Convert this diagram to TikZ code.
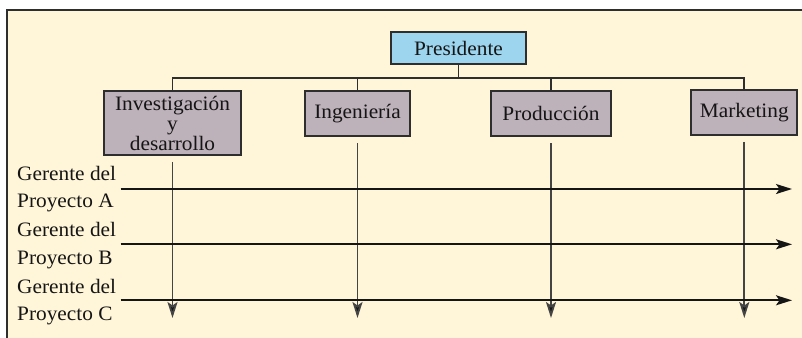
\documentclass[tikz,border=0pt]{standalone}
\usepackage{fontspec}
\setmainfont{Liberation Serif}[FakeStretch=1.04]
\usetikzlibrary{arrows.meta}
\definecolor{cream}{HTML}{FFF5D8}
\definecolor{presblue}{HTML}{9DD5EF}
\definecolor{deptgray}{HTML}{BDB1BA}
\definecolor{edgegray}{HTML}{2E2E2E}
\definecolor{vline}{HTML}{444444}
\definecolor{ink}{HTML}{151515}
\tikzset{
  box/.style={draw=edgegray, line width=1.8bp, inner sep=0pt, align=center,
    font=\fontsize{20.5bp}{20bp}\selectfont, text=ink},
  dept/.style={box, fill=deptgray, minimum height=45bp},
  tree/.style={draw=edgegray, line width=1.8bp},
  vflow/.style={draw=vline, line width=1.8bp, shorten <=6bp,
    -{Stealth[length=16bp,width=10bp,inset=3.5bp,fill=ink]}},
  hflow/.style={draw=ink, line width=1.7bp,
    -{Stealth[length=16bp,width=10bp,inset=3.5bp]}},
  lab/.style={anchor=west, align=left, inner sep=0pt, text=ink,
    font=\fontsize{20.5bp}{27.7bp}\selectfont}
}
\begin{document}
\begin{tikzpicture}[x=1bp,y=-1bp]
\useasboundingbox (0,0) rectangle (802,337);
\fill[white] (0,0) rectangle (802,337);
\draw[fill=cream, draw=edgegray, line width=1.8bp] (7,10) rectangle (810,345);

\node[box, fill=presblue, minimum width=135bp, minimum height=32bp] (pres) at (458.5,48) {Presidente};
\node[dept, minimum width=136.4bp, minimum height=63.7bp, text width=130bp] (inv) at (172.5,123.2) {Investigación\\y\\desarrollo};
\node[dept, minimum width=105bp] (ing) at (357.5,113.7) {Ingeniería};
\node[dept, minimum width=120bp] (pro) at (551,113.7) {Producción};
\node[dept, minimum width=106bp] (mkt) at (744.3,112.5) {Marketing};

\coordinate (busL) at (172.5,78);
\coordinate (busR) at (744.3,78);
\draw[tree] (inv.north) -- (busL) -- (busR) -- (mkt.north);
\draw[tree] (ing.north) -- (ing.north |- busL);
\draw[tree] (pro.north) -- (pro.north |- busL);
\draw[tree] (pres.south) -- (pres.south |- busL);

\coordinate (eInv) at (172.5,318);
\coordinate (eIng) at (357.5,318);
\coordinate (ePro) at (551,318);
\coordinate (eMkt) at (744.3,318);
\draw[vflow] (inv.south) -- (eInv);
\draw[vflow] (ing.south) -- (eIng);
\draw[vflow] (pro.south) -- (ePro);
\draw[vflow] (mkt.south) -- (eMkt);

\coordinate (sA) at (120.7,189);  \coordinate (tA) at (792,189);
\coordinate (sB) at (120.7,244.3); \coordinate (tB) at (792,244.3);
\coordinate (sC) at (120.7,300.3); \coordinate (tC) at (792,300.3);
\draw[hflow] (sA) -- (tA);
\draw[hflow] (sB) -- (tB);
\draw[hflow] (sC) -- (tC);

\node[lab] (lA) at (17,189) {Gerente del\\Proyecto A};
\node[lab] (lB) at (17,245.5) {Gerente del\\Proyecto B};
\node[lab] (lC) at (17,302) {Gerente del\\Proyecto C};
\end{tikzpicture}
\end{document}
